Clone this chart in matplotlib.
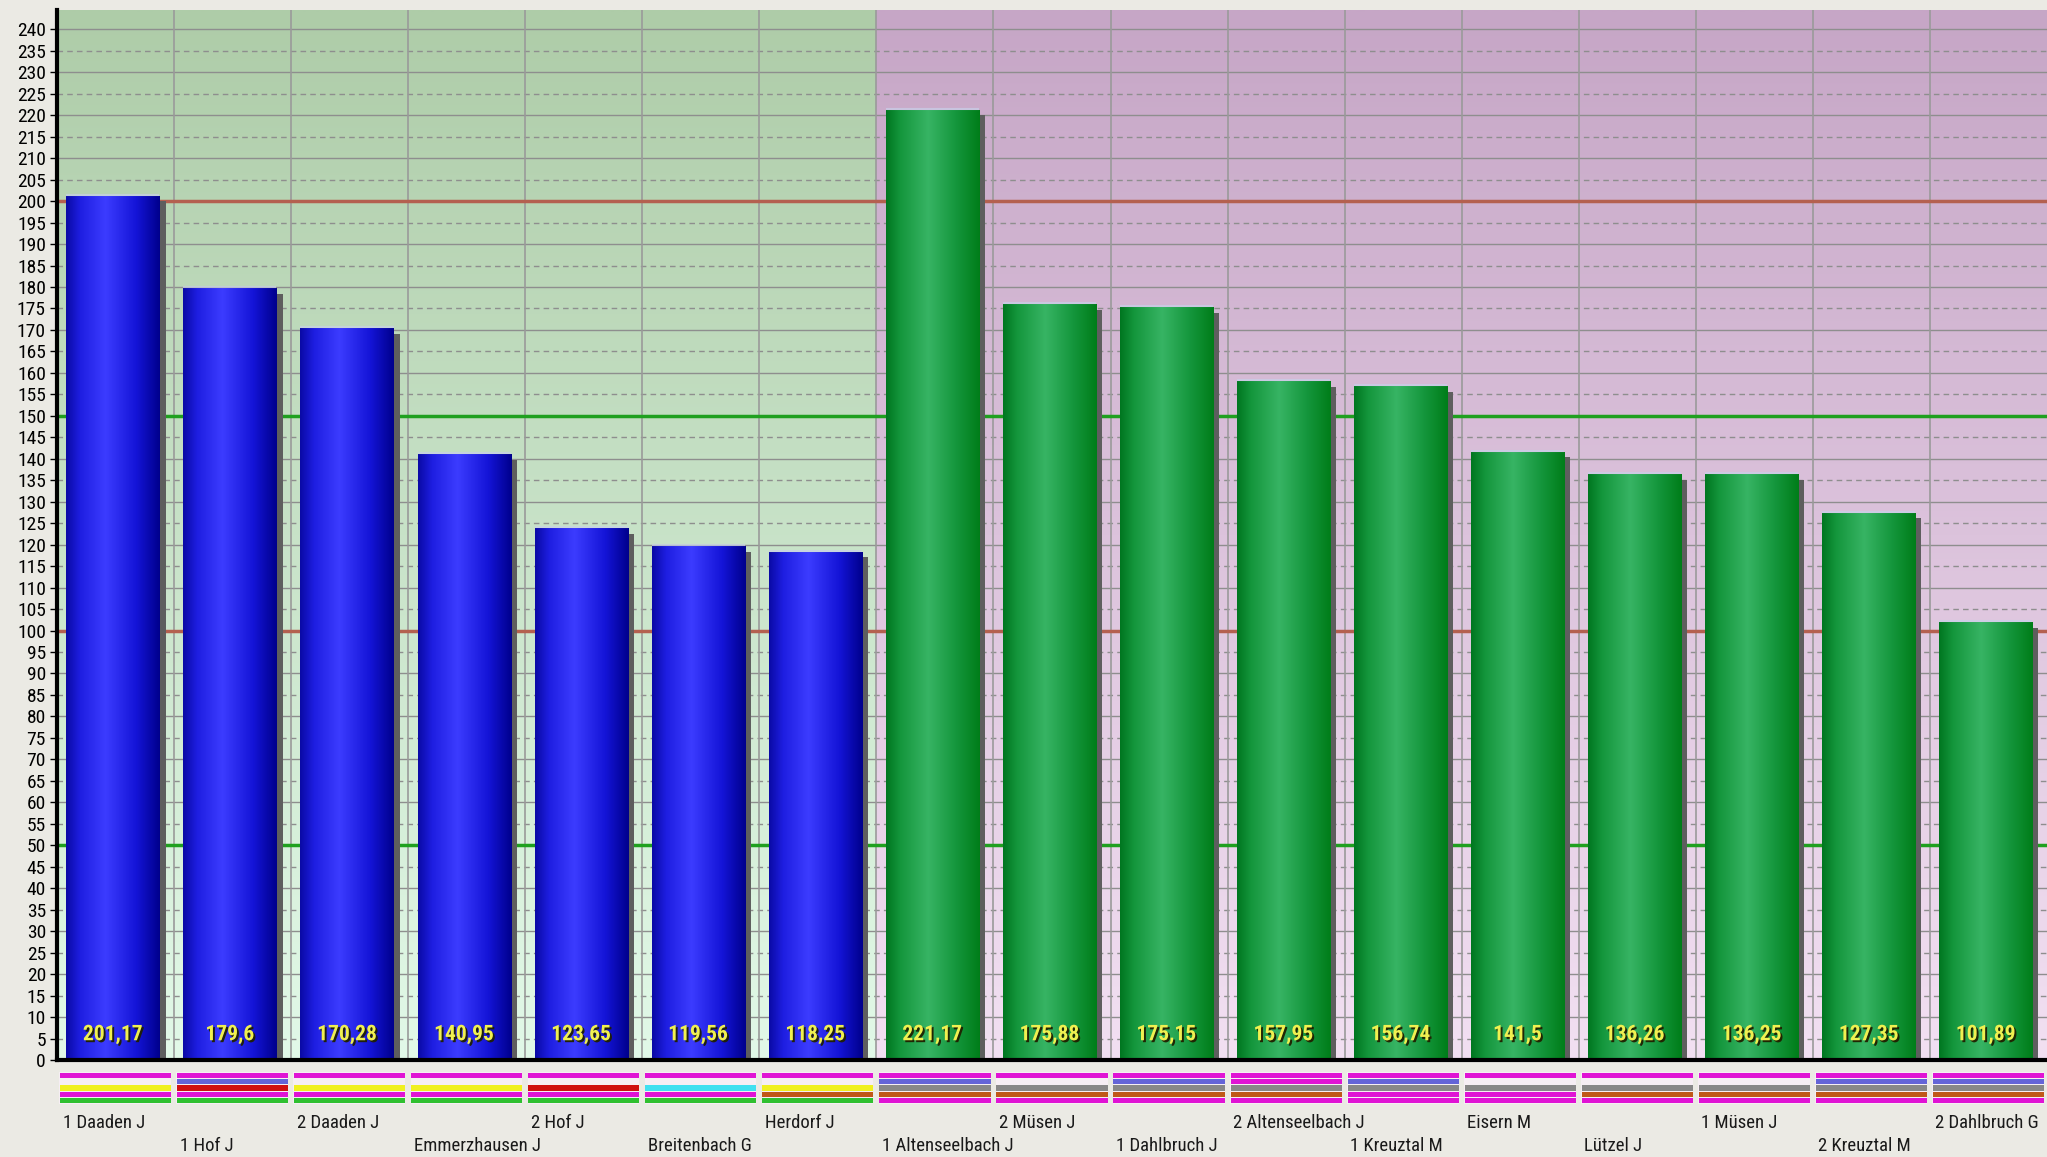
import numpy as np
import matplotlib
matplotlib.use("Agg")
import matplotlib.pyplot as plt
import matplotlib.patheffects as pe
from matplotlib import font_manager as fm

# Werte aus dem Diagramm
namen = ["1 Daaden J", "1 Hof J", "2 Daaden J", "Emmerzhausen J", "2 Hof J",
         "Breitenbach G", "Herdorf J",
         "1 Altenseelbach J", "2 Müsen J", "1 Dahlbruch J", "2 Altenseelbach J",
         "1 Kreuztal M", "Eisern M", "Lützel J", "1 Müsen J", "2 Kreuztal M",
         "2 Dahlbruch G"]
werte_blau = [201.17, 179.6, 170.28, 140.95, 123.65, 119.56, 118.25]
werte_gruen = [221.17, 175.88, 175.15, 157.95, 156.74, 141.5, 136.26,
               136.25, 127.35, 101.89]

# Farbstreifen unter jeder Säule (5 Zeilen, None = leer)
M, B, Y, R, C, G = "#e014d4", "#6464d8", "#f0f020", "#d01010", "#40e0f0", "#30c030"
GR, BR = "#888888", "#c05818"
streifen = [
    [M, None, Y, M, G],
    [M, B, R, M, G],
    [M, None, Y, M, G],
    [M, None, Y, M, G],
    [M, None, R, M, G],
    [M, None, C, M, G],
    [M, None, Y, BR, G],
    [M, B, GR, BR, M],
    [M, None, GR, BR, M],
    [M, B, GR, BR, M],
    [M, M, GR, BR, M],
    [M, B, GR, M, M],
    [M, None, GR, M, M],
    [M, None, GR, BR, M],
    [M, None, GR, BR, M],
    [M, B, GR, BR, M],
    [M, B, GR, BR, M],
]

# schmale Schrift, falls vorhanden
verfuegbar = {f.name for f in fm.fontManager.ttflist}
schrift, streck = "Liberation Sans", 0.85
for kandidat in ("Liberation Sans Narrow", "Roboto Condensed", "Open Sans Condensed",
                 "DejaVu Sans Condensed"):
    if kandidat in verfuegbar:
        schrift, streck = kandidat, 1.0
        break

werte = werte_blau + werte_gruen
n = len(werte)
n_blau = len(werte_blau)
ymax = 244.5

fig = plt.figure(figsize=(20.47, 11.57), dpi=100)
fig.patch.set_facecolor("#ebeae4")
ax = fig.add_axes([57 / 2047, 97 / 1157, 1 - 57 / 2047, 1050 / 1157])


def verlauf(stops, npts=256):
    pos = np.array([s[0] for s in stops])
    cols = np.array([s[1] for s in stops], dtype=float) / 255
    t = np.linspace(0, 1, npts)
    return np.stack([np.interp(t, pos, cols[:, k]) for k in range(3)], axis=-1)


# Hintergrund mit senkrechtem Verlauf (oben dunkel, unten hell)
hg_gruen = verlauf([(0, (174, 204, 168)), (1, (226, 249, 232))])
hg_rosa = verlauf([(0, (198, 166, 198)), (1, (242, 224, 242))])
ax.imshow(hg_gruen[:, None, :], extent=[0, n_blau, 0, ymax], aspect="auto",
          zorder=0, interpolation="bilinear")
ax.imshow(hg_rosa[:, None, :], extent=[n_blau, n, 0, ymax], aspect="auto",
          zorder=0, interpolation="bilinear")

# Gitter
for y in range(5, 245, 5):
    if y % 10 == 0:
        ax.axhline(y, color="#8e8e8e", lw=1.0, zorder=1)
    else:
        ax.axhline(y, color="#8e8e8e", lw=1.0, ls=(0, (4, 3)), zorder=1)
for x in range(1, n):
    ax.axvline(x, color="#9a9a9a", lw=1.2, zorder=1)

# Referenzlinien
for y in (100, 200):
    ax.axhline(y, color="#b46050", lw=2.5, zorder=2)
for y in (50, 150):
    ax.axhline(y, color="#1fa01f", lw=2.5, zorder=2)

bar_blau = verlauf([(0, (10, 10, 165)), (0.15, (30, 30, 225)), (0.42, (60, 60, 255)),
                    (0.75, (20, 20, 215)), (1, (0, 0, 140))])
bar_gruen = verlauf([(0, (0, 118, 32)), (0.15, (20, 150, 60)), (0.45, (55, 180, 100)),
                     (0.75, (20, 150, 60)), (1, (0, 125, 25))])

b_off, b_w = 0.08, 0.795
s_dx, s_dy = 0.052, 1.2
for i, v in enumerate(werte):
    x0 = i + b_off
    # Schatten
    ax.add_patch(plt.Rectangle((x0 + s_dx, 0), b_w, v - s_dy, color="#5e5e5e",
                               zorder=3, lw=0))
    grad = bar_blau if i < n_blau else bar_gruen
    ax.imshow(grad[None, :, :], extent=[x0, x0 + b_w, 0, v], aspect="auto",
              zorder=4, interpolation="bilinear")
    ax.plot([x0, x0 + b_w], [v + 0.35, v + 0.35], color="#c8d0e8", lw=1.5,
            alpha=0.7, zorder=4, solid_capstyle="butt")
    txt = ("%g" % v).replace(".", ",")
    ax.text(x0 + b_w / 2, 6, txt, ha="center", va="center",
            fontsize=15.5 * streck, fontweight="bold", family=schrift,
            color="#f0f050", zorder=5,
            path_effects=[pe.withSimplePatchShadow(offset=(1.4, -1.4),
                                                   shadow_rgbFace="#202000",
                                                   alpha=0.95)])

ax.set_xlim(0, n)
ax.set_ylim(0, ymax)
ax.set_yticks(range(0, 241, 5))
ax.set_yticklabels([str(t) for t in range(0, 241, 5)], family=schrift,
                   fontsize=14 * streck)
ax.set_xticks([])
ax.tick_params(axis="y", length=5, width=1, pad=3, colors="#000000")
for s in ("top", "right"):
    ax.spines[s].set_visible(False)
ax.spines["left"].set_linewidth(3)
ax.spines["bottom"].set_linewidth(3)
ax.spines["left"].set_zorder(6)
ax.spines["bottom"].set_zorder(6)

# Farbstreifen
axs = fig.add_axes([57 / 2047, (1157 - 1104) / 1157, 1 - 57 / 2047, 32 / 1157])
axs.set_xlim(0, n)
axs.set_ylim(5, 0)
axs.axis("off")
for i, zeilen in enumerate(streifen):
    axs.add_patch(plt.Rectangle((i + 0.02, 0), 0.955, 5, color="#f6eef4", lw=0))
    for r, farbe in enumerate(zeilen):
        if farbe is None:
            continue
        axs.add_patch(plt.Rectangle((i + 0.025, r + 0.1), 0.95, 0.8,
                                    color=farbe, lw=0))

# Beschriftungen unten, versetzt in zwei Reihen
for i, name in enumerate(namen):
    ypix = 1123 if i % 2 == 0 else 1146
    fig.text((57 + (i + 0.055) * 117) / 2047, 1 - ypix / 1157, name,
             ha="left", va="center", family=schrift, fontsize=13.5 * streck,
             color="#1a1a1a")

fig.savefig("out.png", dpi=100, facecolor=fig.get_facecolor())
